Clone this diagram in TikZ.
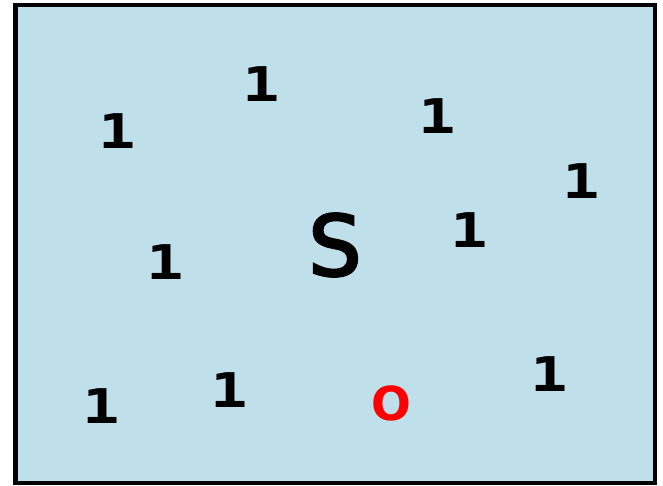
\documentclass[tikz,border=0pt]{standalone}
\usepackage{fontspec}
\setmainfont{DejaVu Sans}
\newfontfamily\monofnt{DejaVu Sans Mono}
\newfontfamily\semifnt[FakeBold=3]{DejaVu Sans}
\definecolor{bgblue}{HTML}{BFE0EA}
\newcommand{\wideone}{\scalebox{1.3}[1]{1}}
\begin{document}
\begin{tikzpicture}[x=1bp,y=-1bp,
  one/.style={font=\monofnt\bfseries\fontsize{48}{48}\selectfont, inner sep=0pt, anchor=center},
  zero/.style={font=\bfseries\fontsize{47}{47}\selectfont, text=red, inner sep=0pt},
  bigS/.style={font=\semifnt\fontsize{84}{84}\selectfont, inner sep=0pt}]
\useasboundingbox (0,0) rectangle (663,486);
\draw[line width=4.5bp, fill=bgblue] (15.5,5) rectangle (655,483);
\node[one] (n1) at (117,131) {\wideone};
\node[one] (n2) at (261,84) {\wideone};
\node[one] (n3) at (437,116) {\wideone};
\node[one] (n4) at (581,181) {\wideone};
\node[one] (n5) at (469,230) {\wideone};
\node[one] (n6) at (165,262) {\wideone};
\node[one] (n7) at (101,406) {\wideone};
\node[one] (n8) at (229,390) {\wideone};
\node[one] (n9) at (549,374) {\wideone};
\node[zero] (z) at (391,403) {O};
\node[bigS] (s) at (335,245) {S};
\end{tikzpicture}
\end{document}
